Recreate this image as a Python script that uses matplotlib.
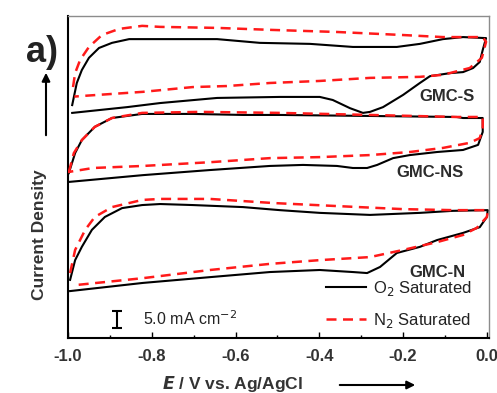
"""
CV curves of GMC-S, GMC-NS and GMC-N in O2 vs N2 saturated electrolyte.
Curves are vertically offset; the scale bar gives 5.0 mA cm-2.
"""
import matplotlib
matplotlib.use("Agg")
import matplotlib.pyplot as plt
from matplotlib.lines import Line2D

plt.rcParams['font.family'] = ['Liberation Sans', 'DejaVu Sans']

# potential E (V vs Ag/AgCl) and offset current density (mA cm-2)
# each loop: anodic branch left->right, then cathodic branch right->left
s_o2_E = [-0.990, -0.979, -0.967, -0.950, -0.926, -0.895, -0.854, -0.780, -0.644, -0.542, -0.422,
          -0.320, -0.215, -0.160, -0.105, -0.057, -0.002,
          -0.010, -0.017, -0.033, -0.057, -0.088, -0.136, -0.160, -0.200, -0.248, -0.279, -0.296,
          -0.327, -0.368, -0.399, -0.494, -0.644, -0.780, -0.859, -0.990]
s_o2_j = [68.5, 75.0, 78.8, 82.4, 85.3, 86.8, 87.9, 87.9, 87.9, 86.8, 86.5,
          85.6, 85.6, 86.5, 87.9, 88.5, 88.2,
          84.7, 81.2, 79.4, 78.2, 77.9, 77.0, 75.0, 71.5, 67.9, 66.5, 66.2,
          67.6, 70.0, 70.9, 70.9, 70.6, 69.1, 67.9, 66.2]

s_n2_E = [-0.988, -0.983, -0.971, -0.950, -0.919, -0.878, -0.823, -0.780, -0.644, -0.511, -0.358,
          -0.200, -0.105, -0.010, -0.002,
          -0.012, -0.041, -0.105, -0.160, -0.279, -0.399, -0.518, -0.621, -0.702, -0.821, -0.964, -0.985]
s_n2_j = [73.8, 77.9, 81.8, 85.6, 89.1, 90.9, 91.8, 91.5, 91.2, 90.6, 90.0,
          89.1, 88.5, 88.5, 87.1,
          82.4, 79.4, 77.4, 76.8, 76.5, 75.6, 75.0, 74.1, 73.8, 72.4, 71.2, 71.0]

ns_o2_E = [-0.998, -0.983, -0.967, -0.936, -0.895, -0.823, -0.702, -0.582, -0.494, -0.279, -0.072,
           -0.057, -0.010,
           -0.010, -0.021, -0.057, -0.119, -0.184, -0.224, -0.262, -0.286, -0.320, -0.358, -0.439,
           -0.518, -0.661, -0.821, -0.998]
ns_o2_j = [48.5, 54.4, 58.2, 62.1, 64.7, 65.9, 65.9, 65.6, 65.6, 65.3, 65.0,
           64.7, 64.7,
           60.6, 56.8, 55.3, 54.7, 53.8, 52.9, 50.9, 50.0, 50.0, 50.6, 50.9,
           50.6, 49.4, 47.9, 45.9]

ns_n2_E = [-0.998, -0.986, -0.967, -0.936, -0.895, -0.823, -0.685, -0.494, -0.279, -0.072, -0.010,
           -0.010, -0.017, -0.041, -0.105, -0.184, -0.279, -0.399, -0.518, -0.661, -0.821, -0.940, -1.000]
ns_n2_j = [48.8, 54.4, 58.2, 62.1, 64.7, 66.2, 66.5, 66.2, 65.6, 65.0, 65.0,
           61.8, 58.8, 57.4, 55.9, 54.7, 53.8, 53.2, 52.9, 51.7, 50.6, 50.0, 48.8]

n_o2_E = [-0.995, -0.983, -0.967, -0.943, -0.912, -0.871, -0.823, -0.780, -0.702, -0.582, -0.494,
          -0.399, -0.279, -0.160, -0.081, 0.002,
          0.000, -0.017, -0.057, -0.119, -0.160, -0.215, -0.255, -0.286, -0.320, -0.399, -0.518,
          -0.661, -0.821, -0.995]
n_o2_j = [17.1, 22.9, 26.8, 31.8, 35.6, 38.2, 39.1, 39.4, 39.1, 38.5, 37.6,
          36.8, 36.2, 36.8, 37.4, 37.6,
          35.6, 32.6, 30.9, 28.8, 26.8, 25.0, 20.9, 19.1, 19.4, 20.0, 19.4,
          17.9, 16.2, 13.8]

n_n2_E = [-0.995, -0.983, -0.959, -0.936, -0.895, -0.823, -0.780, -0.661, -0.511, -0.358, -0.200,
          -0.081, 0.002,
          0.000, -0.024, -0.057, -0.119, -0.200, -0.279, -0.399, -0.518, -0.661, -0.821, -0.979]
n_n2_j = [19.1, 25.9, 31.8, 35.6, 38.5, 40.6, 40.9, 40.9, 39.7, 38.8, 37.9,
          37.6, 37.6,
          35.6, 32.4, 30.3, 28.2, 25.9, 23.8, 22.9, 21.8, 20.0, 17.6, 15.6]

samples = ["GMC-S", "GMC-NS", "GMC-N"]
label_E = [-0.095, -0.136, -0.119]
label_j = [70.9, 48.8, 19.4]

xticks = [-1.0, -0.8, -0.6, -0.4, -0.2, 0.0]
xticklabels = ["-1.0", "-0.8", "-0.6", "-0.4", "-0.2", "0.0"]

scale_E = -0.883
scale_j = 5.4
scale_len = 5.0

W, H = 497, 393
fig = plt.figure(figsize=(W / 100, H / 100), dpi=100)
ax = fig.add_axes([68 / W, 1 - 338 / H, 421 / W, 322 / H])

o2_style = dict(color="black", lw=1.5)
n2_style = dict(color="#ff1a1a", lw=1.8, dashes=(4, 2.6))

for E, j in [(s_o2_E, s_o2_j), (ns_o2_E, ns_o2_j), (n_o2_E, n_o2_j)]:
    ax.plot(E, j, **o2_style, zorder=2)
for E, j in [(s_n2_E, s_n2_j), (ns_n2_E, ns_n2_j), (n_n2_E, n_n2_j)]:
    ax.plot(E, j, **n2_style, zorder=3)

for name, x, y in zip(samples, label_E, label_j):
    ax.text(x, y, name, fontsize=12, fontweight="bold", color="#2b2b2b", ha="center", va="center")

# scale bar
ax.errorbar([scale_E], [scale_j], yerr=scale_len / 2, color="black", lw=1.5, capsize=3.5, capthick=1.5)
ax.text(-0.821, scale_j + 0.4, "5.0 mA cm$^{-2}$", fontsize=11.5, color="#222222", va="center")

ax.set_xlim(-1.0, 0.005)
ax.set_ylim(0, 94.7)
ax.set_xticks(xticks)
ax.set_xticklabels(xticklabels, fontsize=12, fontweight="bold", color="#333333")
ax.set_xticks([-0.9, -0.7, -0.5, -0.3, -0.1], minor=True)
ax.tick_params(axis="x", which="both", direction="in", pad=8)
ax.tick_params(axis="x", which="major", length=4, width=1)
ax.tick_params(axis="x", which="minor", length=2.5, width=1)
ax.set_yticks([])

for side in ["left", "bottom"]:
    ax.spines[side].set_linewidth(1.5)
    ax.spines[side].set_color("black")
for side in ["top", "right"]:
    ax.spines[side].set_linewidth(1.0)
    ax.spines[side].set_color("#8c8c8c")

handles = [Line2D([], [], **o2_style), Line2D([], [], **n2_style)]
ax.legend(handles, ["O$_2$ Saturated", "N$_2$ Saturated"], loc="lower right",
          bbox_to_anchor=(0.975, 0.005), frameon=False, fontsize=12, handlelength=2.4,
          handletextpad=0.4, labelspacing=0.75, borderaxespad=0, labelcolor="#222222")

# axis labels with arrows
fig.text(40 / W, 1 - 235 / H, "Current Density", rotation=90, fontsize=12.5, fontweight="bold",
         color="#333333", ha="center", va="center")
fig.text(233 / W, 1 - 384 / H, "$\\boldsymbol{E}$ / V vs. Ag/AgCl", fontsize=12.5,
         fontweight="bold", color="#333333", ha="center", va="center")
fig.patches.append(matplotlib.patches.FancyArrowPatch(
    (46 / W, 1 - 138 / H), (46 / W, 1 - 70 / H), transform=fig.transFigure,
    arrowstyle="-|>", mutation_scale=12, lw=1.5, color="black"))
fig.patches.append(matplotlib.patches.FancyArrowPatch(
    (337 / W, 1 - 385 / H), (418 / W, 1 - 385 / H), transform=fig.transFigure,
    arrowstyle="-|>", mutation_scale=12, lw=1.5, color="black"))

fig.text(42 / W, 1 - 52 / H, "a)", fontsize=26, fontweight="bold", color="#222222",
         ha="center", va="center")

fig.savefig("out.png", dpi=100)
